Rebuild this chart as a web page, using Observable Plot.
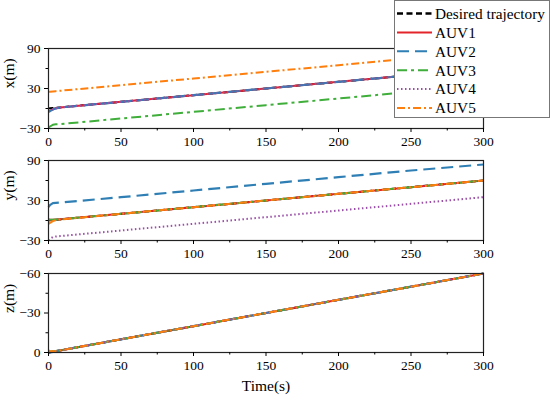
<!DOCTYPE html>
<html>
<head>
<meta charset="utf-8">
<script src="https://cdn.jsdelivr.net/npm/d3@7"></script>
<script src="https://cdn.jsdelivr.net/npm/@observablehq/plot@0.6"></script>
<style>
  body { margin: 0; background: #fff; }
  #chart { position: relative; width: 550px; height: 401px; overflow: hidden; font-family: "Liberation Serif", "Times New Roman", Times, serif; }
  #chart svg { display: block; }
  #chart svg text { font-family: "Liberation Serif", "Times New Roman", Times, serif !important; }
  #legend { position: absolute; left: 394px; top: 0px; width: 156px; height: 118px; box-sizing: border-box;
            border: 1px solid #777; background: #fff; }
</style>
</head>
<body>
<div id="chart"><div id="plots"></div><div id="legend"></div></div>
<script>
// ---- data ----
const seriesNames = ["Desired trajectory", "AUV1", "AUV2", "AUV3", "AUV4", "AUV5"];
const time = [0, 1, 3, 5, 8, 50, 100, 150, 200, 250, 300];

const xDesired = [0, 0.2, 0.6, 1, 1.6, 10, 20, 30, 40, 50, 60];
const xAUV1 = [-4, -3.2, -1.2, 0.4, 1.5, 10, 20, 30, 40, 50, 60];
const xAUV2 = [-5, -4, -1.5, 0.3, 1.5, 10, 20, 30, 40, 50, 60];
const xAUV3 = [-29, -27, -24.5, -23.6, -23.4, -15, -5, 5, 15, 25, 35];
const xAUV4 = [-4.5, -3.6, -1.4, 0.3, 1.5, 10, 20, 30, 40, 50, 60];
const xAUV5 = [25, 25.2, 25.6, 26, 26.6, 35, 45, 55, 65, 75, 85];

const yDesired = [0, 0.2, 0.6, 1, 1.6, 10, 20, 30, 40, 50, 60];
const yAUV1 = [1, 1, 1.2, 1.4, 1.7, 10, 20, 30, 40, 50, 60];
const yAUV2 = [20, 23, 26, 26.5, 26.8, 35, 45, 55, 65, 75, 84];
const yAUV3 = [1.5, 1.4, 1.3, 1.5, 1.7, 10, 20, 30, 40, 50, 60];
const yAUV4 = [-30, -27.5, -25, -24, -23.4, -15, -5, 5, 15, 25, 35];
const yAUV5 = [-5, -3.5, -1, 0.5, 1.5, 10, 20, 30, 40, 50, 60];

const zDesired = [0, -0.2, -0.6, -1, -1.6, -10, -20, -30, -40, -50, -60];
const zAUV1 = [-0.5, -0.4, -0.7, -1, -1.6, -10, -20, -30, -40, -50, -60];
const zAUV2 = [0, -0.1, -0.5, -0.9, -1.6, -10, -20, -30, -40, -50, -60];
const zAUV3 = [-1, -0.8, -0.8, -1.1, -1.6, -10, -20, -30, -40, -50, -60];
const zAUV4 = [0.3, 0.1, -0.4, -0.9, -1.6, -10, -20, -30, -40, -50, -60];
const zAUV5 = [-1.5, -1.2, -1, -1.2, -1.6, -10, -20, -30, -40, -50, -60];

const xTicks = [0, 50, 100, 150, 200, 250, 300];
const xMinor = [25, 75, 125, 175, 225, 275];
const xyTicks = [-30, 30, 90];
const xyMinor = [0, 60];
const zTicks = [0, -30, -60];
const zMinor = [-15, -45];

// ---- styles ----
const FONT = "Liberation Serif";
const styles = {
  "Desired trajectory": {stroke: "#000", strokeDasharray: "5,3", strokeWidth: 2},
  "AUV1": {stroke: "#e3242b", strokeWidth: 2},
  "AUV2": {stroke: "#2f7fb5", strokeDasharray: "12,6", strokeWidth: 2.2},
  "AUV3": {stroke: "#3fae3a", strokeDasharray: "10,4,3,4", strokeWidth: 2},
  "AUV4": {stroke: "#9b4ea8", strokeDasharray: "1.5,2.5", strokeWidth: 2},
  "AUV5": {stroke: "#ff7f0e", strokeDasharray: "8,3,2,3", strokeWidth: 2}
};

function rows(arrays) {
  return seriesNames.map((name, i) => time.map((t, j) => ({t, v: arrays[i][j], series: name})));
}

function panel({arrays, domain, ticks, minor, label, height, mt, mb, timeLabel}) {
  const data = rows(arrays);
  const marks = data.map((d, i) => Plot.line(d, {x: "t", y: "v", ...styles[seriesNames[i]], strokeLinecap: "butt"}));
  marks.push(Plot.frame({stroke: "#222", strokeWidth: 1.2}));
  marks.push(Plot.axisX(xTicks, {anchor: "bottom", tickSize: 4, tickPadding: 4, label: null, fontSize: 13.5, fontFamily: FONT}));
  marks.push(Plot.axisX(xMinor, {anchor: "bottom", tickSize: 2.5, tickFormat: () => "", label: null}));
  marks.push(Plot.axisY(ticks, {anchor: "left", tickSize: 4, tickPadding: 4, label: null, fontSize: 13.5, fontFamily: FONT}));
  marks.push(Plot.axisY(minor, {anchor: "left", tickSize: 2.5, tickFormat: () => "", label: null}));
  marks.push(Plot.text([label], {frameAnchor: "left", dx: -39, rotate: -90, fontSize: 15.5, fontFamily: FONT, text: d => d}));
  if (timeLabel) marks.push(Plot.text([timeLabel], {frameAnchor: "bottom", dy: 38, fontSize: 15.5, fontFamily: FONT, text: d => d}));
  return Plot.plot({
    width: 550, height, marginLeft: 48, marginRight: 67, marginTop: mt, marginBottom: mb,
    x: {domain: [0, 300]},
    y: {domain},
    style: {fontFamily: FONT, fontSize: "13.5px", color: "#000", background: "transparent", overflow: "visible"},
    marks
  });
}

const plots = document.getElementById("plots");
plots.append(panel({arrays: [xDesired, xAUV1, xAUV2, xAUV3, xAUV4, xAUV5], domain: [-30, 90], ticks: xyTicks, minor: xyMinor, label: "x(m)", height: 150, mt: 48, mb: 22}));
plots.append(panel({arrays: [yDesired, yAUV1, yAUV2, yAUV3, yAUV4, yAUV5], domain: [-30, 90], ticks: xyTicks, minor: xyMinor, label: "y(m)", height: 113, mt: 10, mb: 23}));
plots.append(panel({arrays: [zDesired, zAUV1, zAUV2, zAUV3, zAUV4, zAUV5], domain: [0, -60], ticks: zTicks, minor: zMinor, label: "z(m)", height: 138, mt: 10, mb: 49, timeLabel: "Time(s)"}));

// ---- legend ----
const lg = d3.select("#legend").append("svg").attr("width", 154).attr("height", 116);
seriesNames.forEach((name, i) => {
  const y = 12.5 + i * 18.9;
  const s = styles[name];
  lg.append("line").attr("x1", 2).attr("x2", 37).attr("y1", y).attr("y2", y)
    .attr("stroke", s.stroke).attr("stroke-width", name === "Desired trajectory" ? 2.5 : 2)
    .attr("stroke-dasharray", name === "Desired trajectory" ? "6,3.5" : (s.strokeDasharray || null));
  lg.append("text").attr("x", 40).attr("y", y).attr("dy", "0.35em").attr("fill", "#000")
    .attr("font-family", FONT).attr("font-size", 15.3).text(name);
});
</script>
</body>
</html>
